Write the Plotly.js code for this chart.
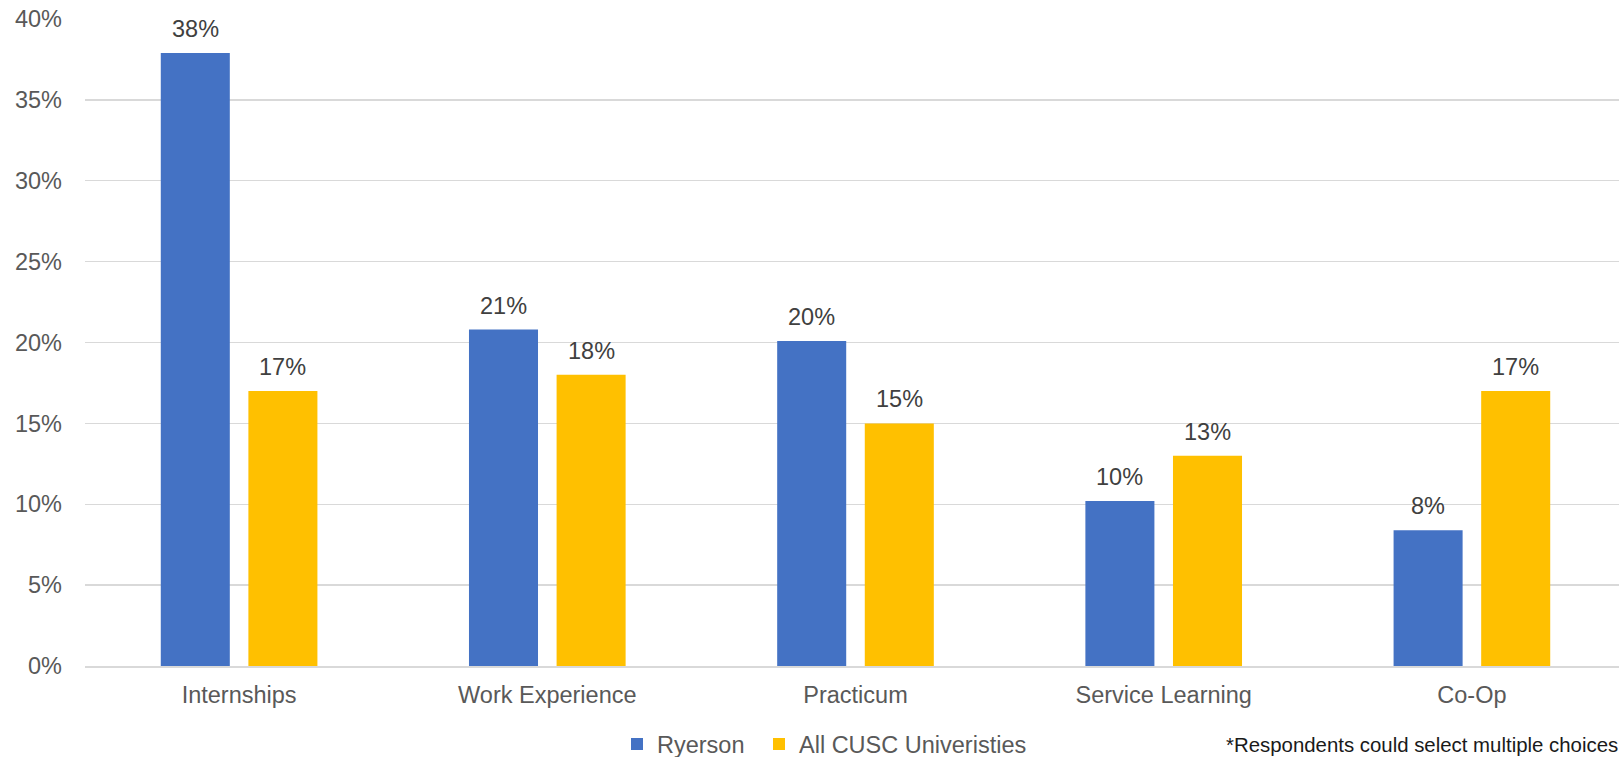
<!DOCTYPE html>
<html>
<head>
<meta charset="utf-8">
<script src="https://cdn.plot.ly/plotly-3.0.1.min.js"></script>
<style>html,body{margin:0;padding:0;background:#fff;}#chart{width:1619px;height:757px;}</style>
</head>
<body>
<div id="chart"></div>
<script>
const categories = ["Internships", "Work Experience", "Practicum", "Service Learning", "Co-Op"];
const ryerson = [37.9, 20.8, 20.1, 10.2, 8.4];
const ryersonLabels = ["38%", "21%", "20%", "10%", "8%"];
const allCusc = [17, 18, 15, 13, 17];
const allCuscLabels = ["17%", "18%", "15%", "13%", "17%"];
const seriesNames = ["Ryerson", "All CUSC Univeristies"];
const yTicks = [0, 5, 10, 15, 20, 25, 30, 35, 40];
const yTickLabels = ["0%", "5%", "10%", "15%", "20%", "25%", "30%", "35%", "40%"];
const footnote = "*Respondents could select multiple choices";

const FONT = "Liberation Sans, Arial, sans-serif";
const FS = 23.5;
const idx = categories.map((c, i) => i);

const traces = [
  {type: "bar", name: seriesNames[0], x: idx, y: ryerson, marker: {color: "#4472C4"}, legend: "legend"},
  {type: "bar", name: seriesNames[1], x: idx, y: allCusc, marker: {color: "#FFC000"}, legend: "legend2"}
];

const off = 0.1421;
const annotations = [];
idx.forEach(i => {
  annotations.push({x: i - off, y: ryerson[i], xref: "x", yref: "y", text: ryersonLabels[i], showarrow: false,
    yanchor: "bottom", yshift: 9, font: {family: FONT, size: FS, color: "#404040"}});
  annotations.push({x: i + off, y: allCusc[i], xref: "x", yref: "y", text: allCuscLabels[i], showarrow: false,
    yanchor: "bottom", yshift: 9, font: {family: FONT, size: FS, color: "#404040"}});
});
const plotH = 757 - 19 - 91.3;
annotations.push({x: (1224 - 85) / 1534, y: -(745 - 665.7) / plotH, xref: "paper", yref: "paper", xanchor: "left", yanchor: "middle",
  text: footnote, showarrow: false, font: {family: FONT, size: 20.4, color: "#1a1a1a"}});

const legY = -(744 - 665.7) / plotH;
const legendBase = {orientation: "h", xanchor: "left", y: legY, yanchor: "middle", bgcolor: "rgba(0,0,0,0)",
  font: {family: FONT, size: FS, color: "#595959"}, itemwidth: 30};

const layout = {
  width: 1619, height: 757,
  margin: {l: 85, r: 0, t: 19, b: 91.3, pad: 0, autoexpand: false},
  paper_bgcolor: "#fff", plot_bgcolor: "#fff",
  barmode: "group", bargap: 0.4315, bargroupgap: 0.212,
  showlegend: true,
  legend: Object.assign({}, legendBase, {x: (617 - 85) / 1534}),
  legend2: Object.assign({}, legendBase, {x: (759 - 85) / 1534}),
  xaxis: {range: [-0.5, 4.4773], tickmode: "array", tickvals: idx, ticktext: categories,
    showgrid: false, zeroline: false, showline: true, linecolor: "#D9D9D9", linewidth: 1.5,
    ticks: "", ticklabelstandoff: 7, tickfont: {family: FONT, size: FS, color: "#595959"}, fixedrange: true, automargin: false},
  yaxis: {range: [0, 40], tickmode: "array", tickvals: yTicks, ticktext: yTickLabels,
    showgrid: true, gridcolor: "#D9D9D9", gridwidth: 1.3, zeroline: false, showline: false,
    ticks: "", ticklabelstandoff: 22, tickfont: {family: FONT, size: FS, color: "#595959"}, fixedrange: true, automargin: false},
  annotations: annotations,
  font: {family: FONT}
};

Plotly.newPlot("chart", traces, layout, {displayModeBar: false, staticPlot: true});
</script>
</body>
</html>
